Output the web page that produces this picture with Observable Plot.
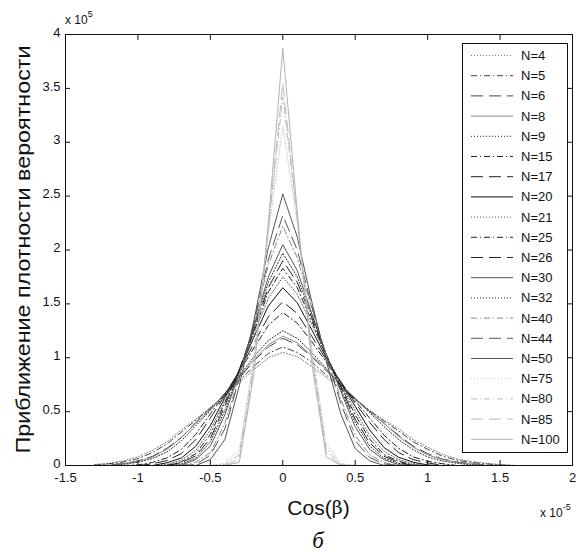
<!DOCTYPE html>
<html><head><meta charset="utf-8">
<script src="https://cdn.jsdelivr.net/npm/d3@7"></script>
<script src="https://cdn.jsdelivr.net/npm/@observablehq/plot@0.6"></script>
<style>
body{margin:0;background:#fff;}
#wrap{position:relative;width:578px;height:552px;background:#fff;font-family:"Liberation Sans",Arial,sans-serif;}
#caption{position:absolute;left:268px;width:100px;top:527px;height:28px;line-height:28px;text-align:center;font-family:"Liberation Serif","DejaVu Serif",serif;font-style:italic;font-size:23px;color:#111;}
</style>
</head><body>
<div id="wrap"><div id="chart"></div><div id="caption">б</div></div>
<script>
// x positions (units of 1e-5) and density values (units of 1e5)
const xGrid = [-1.3,-1.2,-1.1,-1.0,-0.9,-0.8,-0.7,-0.6,-0.5,-0.4,-0.3,-0.2,-0.1,0,0.1,0.2,0.3,0.4,0.5,0.6,0.7,0.8,0.9,1.0,1.1,1.2,1.3,1.4,1.5,1.6];
const seriesN = [4,5,6,8,9,15,17,20,21,25,26,30,32,40,44,50,75,80,85,100];
const y4 = [0.01,0.02,0.045,0.08,0.14,0.22,0.33,0.43,0.54,0.65,0.77,0.89,1.00,1.05,1.01,0.92,0.82,0.71,0.61,0.51,0.42,0.34,0.24,0.17,0.105,0.063,0.037,0.021,0.01,0];
const y5 = [0.003,0.016,0.033,0.063,0.12,0.20,0.31,0.42,0.53,0.66,0.79,0.92,1.04,1.10,1.05,0.96,0.84,0.73,0.62,0.51,0.41,0.32,0.22,0.15,0.088,0.05,0.029,0.015,0.004,0];
const y6 = [0,0.005,0.02,0.041,0.085,0.16,0.26,0.40,0.53,0.66,0.81,0.97,1.10,1.18,1.12,1.01,0.88,0.75,0.62,0.50,0.39,0.28,0.18,0.11,0.061,0.034,0.017,0.004,0,0];
const y8 = [0,0.002,0.018,0.038,0.078,0.15,0.26,0.39,0.52,0.67,0.82,0.98,1.12,1.20,1.14,1.02,0.89,0.75,0.62,0.50,0.39,0.27,0.17,0.10,0.056,0.03,0.014,0,0,0];
const y9 = [0,0,0.011,0.03,0.064,0.125,0.23,0.37,0.51,0.67,0.83,1.01,1.16,1.25,1.18,1.05,0.90,0.75,0.62,0.49,0.36,0.24,0.146,0.08,0.042,0.021,0.006,0,0,0];
const y15 = [0,0,0,0.006,0.028,0.07,0.15,0.29,0.48,0.66,0.87,1.09,1.30,1.42,1.32,1.15,0.96,0.77,0.60,0.44,0.28,0.16,0.08,0.04,0.017,0,0,0,0,0];
const y17 = [0,0,0,0,0.015,0.046,0.11,0.24,0.44,0.65,0.88,1.13,1.38,1.52,1.41,1.20,0.98,0.78,0.58,0.40,0.24,0.12,0.055,0.024,0.003,0,0,0,0,0];
const y20 = [0,0,0,0,0,0.025,0.07,0.18,0.37,0.63,0.88,1.19,1.48,1.65,1.51,1.26,1.00,0.77,0.55,0.33,0.165,0.076,0.031,0.005,0,0,0,0,0,0];
const y21 = [0,0,0,0,0,0.01,0.05,0.14,0.33,0.60,0.89,1.22,1.55,1.75,1.59,1.31,1.02,0.76,0.51,0.28,0.13,0.054,0.019,0,0,0,0,0,0,0];
const y25 = [0,0,0,0,0,0,0.035,0.11,0.29,0.58,0.89,1.24,1.61,1.83,1.65,1.34,1.02,0.74,0.47,0.245,0.10,0.04,0.006,0,0,0,0,0,0,0];
const y26 = [0,0,0,0,0,0,0.027,0.09,0.25,0.55,0.89,1.26,1.65,1.90,1.70,1.37,1.03,0.73,0.43,0.21,0.085,0.03,0,0,0,0,0,0,0,0];
const y30 = [0,0,0,0,0,0,0.005,0.055,0.18,0.47,0.86,1.29,1.75,2.05,1.81,1.41,1.03,0.69,0.36,0.15,0.053,0.008,0,0,0,0,0,0,0,0];
const y32 = [0,0,0,0,0,0,0.016,0.069,0.22,0.51,0.88,1.27,1.70,1.97,1.75,1.39,1.03,0.71,0.40,0.18,0.067,0.02,0,0,0,0,0,0,0,0];
const y40 = [0,0,0,0,0,0,0,0.03,0.12,0.39,0.83,1.31,1.86,2.22,1.93,1.46,1.02,0.62,0.28,0.098,0.027,0,0,0,0,0,0,0,0,0];
const y44 = [0,0,0,0,0,0,0,0.009,0.097,0.34,0.81,1.32,1.91,2.32,2.00,1.48,1.01,0.58,0.23,0.074,0.014,0,0,0,0,0,0,0,0,0];
const y50 = [0,0,0,0,0,0,0,0,0.055,0.24,0.74,1.34,2.02,2.52,2.12,1.52,0.97,0.48,0.156,0.043,0,0,0,0,0,0,0,0,0,0];
const y75 = [0,0,0,0,0,0,0,0,0,0.02,0.15,1.0,2.15,3.15,2.25,1.1,0.2,0.02,0,0,0,0,0,0,0,0,0,0,0,0];
const y80 = [0,0,0,0,0,0,0,0,0,0.01,0.1,0.95,2.2,3.42,2.3,1.05,0.15,0.01,0,0,0,0,0,0,0,0,0,0,0,0];
const y85 = [0,0,0,0,0,0,0,0,0,0,0.06,0.9,2.2,3.55,2.3,1.0,0.12,0,0,0,0,0,0,0,0,0,0,0,0,0];
const y100 = [0,0,0,0,0,0,0,0,0,0,0.03,0.85,2.25,3.87,2.35,0.95,0.08,0,0,0,0,0,0,0,0,0,0,0,0,0];
const seriesValues = [y4,y5,y6,y8,y9,y15,y17,y20,y21,y25,y26,y30,y32,y40,y44,y50,y75,y80,y85,y100];
const xTicks = [-1.5,-1,-0.5,0,0.5,1,1.5,2];
const yTicks = [0,0.5,1,1.5,2,2.5,3,3.5,4];

// styles (kept apart from the data)
const lineStyle = ["dotted","dashdot","dashed","solid","dotted","dashdot","dashed","solid","dotted","dashdot","dashed","solid","dotted","dashdot","dashed","solid","dotted","dashdot","dashed","solid"];
const lineColor = ["#777","#444","#444","#888","#222","#222","#222","#111","#555","#222","#222","#555","#222","#888","#555","#555","#c8c8c8","#bbb","#bbb","#b4b4b4"];
const dash = {dotted:"1,2", dashdot:"6,3,1,3", dashed:"12,6", solid:null};

const lineMarks = seriesN.map((n, s) => {
  const ys = seriesValues[s];
  const pts = xGrid.map((x, i) => ({x, y: ys[i], i}))
    .filter(d => ys[d.i] > 0 || (d.i > 0 && ys[d.i-1] > 0) || (d.i < ys.length-1 && ys[d.i+1] > 0));
  return Plot.line(pts, {x: "x", y: "y", stroke: lineColor[s], strokeWidth: 1,
    strokeDasharray: dash[lineStyle[s]] || undefined});
});

const fmt = d => String(d);
const svg = Plot.plot({
  width: 578, height: 524,
  marginTop: 34, marginBottom: 59, marginLeft: 65, marginRight: 6,
  style: {fontFamily: "Liberation Sans, Arial, sans-serif", fontSize: "13px", background: "white", color: "#111", overflow: "visible"},
  x: {domain: [-1.5, 2]},
  y: {domain: [0, 4]},
  marks: [
    ...lineMarks,
    Plot.frame({stroke: "#111", strokeWidth: 1}),
    Plot.axisX({anchor: "bottom", ticks: xTicks, tickSize: 0, tickPadding: 7, tickFormat: fmt, label: null}),
    Plot.axisX({anchor: "bottom", ticks: xTicks, tickSize: -5, text: null, label: null}),
    Plot.axisX({anchor: "top", ticks: xTicks, tickSize: -5, text: null, label: null}),
    Plot.axisY({anchor: "left", ticks: yTicks, tickSize: 0, tickPadding: 5, dy: -2, tickFormat: fmt, label: null}),
    Plot.axisY({anchor: "left", ticks: yTicks, tickSize: -5, text: null, label: null}),
    Plot.axisY({anchor: "right", ticks: yTicks, tickSize: -5, text: null, label: null})
  ]
});
document.getElementById("chart").appendChild(svg);

const g = d3.select(svg).append("g").attr("font-family", "Liberation Sans, Arial, sans-serif").attr("fill", "#111");
// y title
g.append("text").attr("transform", "translate(23,249.5) rotate(-90)")
  .attr("text-anchor", "middle").attr("dominant-baseline", "central")
  .attr("font-size", 20).attr("textLength", 408).attr("lengthAdjust", "spacingAndGlyphs")
  .text("Приближение плотности вероятности");
// x title
const xt = g.append("text").attr("x", 318.5).attr("y", 507).attr("text-anchor", "middle")
  .attr("dominant-baseline", "central").attr("font-size", 21);
xt.append("tspan").text("Cos(");
xt.append("tspan").attr("font-family", "DejaVu Serif, Liberation Serif, serif").attr("font-size", 19).text("β");
xt.append("tspan").text(")");
// exponents
const e1 = g.append("text").attr("x", 65).attr("y", 24).attr("font-size", 12).attr("text-anchor", "start");
e1.append("tspan").text("x 10");
e1.append("tspan").attr("font-size", 9).attr("dy", -7).text("5");
const e2 = g.append("text").attr("x", 540).attr("y", 517).attr("font-size", 12).attr("text-anchor", "start");
e2.append("tspan").text("x 10");
e2.append("tspan").attr("font-size", 9).attr("dy", -7).text("-5");

// legend
const lg = g.append("g");
lg.append("rect").attr("x", 462.5).attr("y", 43.5).attr("width", 105).attr("height", 409)
  .attr("fill", "white").attr("stroke", "#111").attr("stroke-width", 1);
seriesN.forEach((n, s) => {
  const yy = 55.5 + s * 20.2;
  lg.append("line").attr("x1", 471).attr("x2", 513).attr("y1", yy).attr("y2", yy)
    .attr("stroke", lineColor[s]).attr("stroke-width", 1)
    .attr("stroke-dasharray", dash[lineStyle[s]]);
  lg.append("text").attr("x", 521).attr("y", yy).attr("dominant-baseline", "central")
    .attr("text-anchor", "start").attr("font-size", 13).text("N=" + n);
});
</script>
</body></html>
